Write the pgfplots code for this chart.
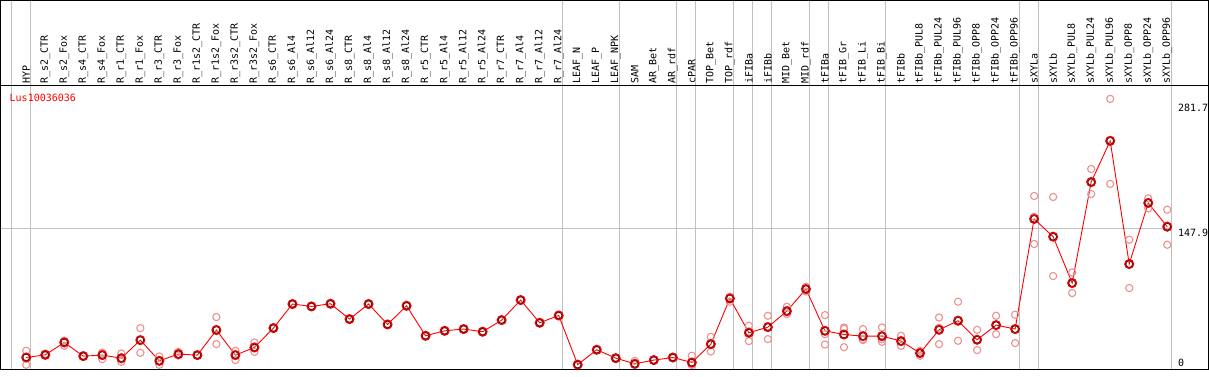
\documentclass[border=0pt]{standalone}
\usepackage{pgfplots}
\pgfplotsset{compat=1.18}
\usepackage{pgfplotstable}
\usepackage{fontspec}
\setmonofont{DejaVu Sans Mono}
\newcommand\lbl{\ttfamily\fontsize{10bp}{12bp}\selectfont}
\definecolor{rep}{RGB}{236,145,145}
\definecolor{meanc}{RGB}{235,0,0}
\definecolor{gridc}{RGB}{192,192,192}

\pgfplotstableread{
k mean r1 r2 r3
0 7.9 15.2 8.5 0
1 10.8 12 10 10.4
2 24.2 26 20.6 26
3 9.4 10 9 9.2
4 10.5 13.3 6.2 12
5 7.2 12.3 3.3 6
6 26.7 39.7 13 27.4
7 4.3 9 0 3.9
8 11.6 14 10 10.8
9 10.5 11 10 10.5
10 37.6 51.7 22.4 38.7
11 10.5 15.2 5.1 11.2
12 18.8 24.2 14 18.2
13 39.8 40.4 39.2 39.8
14 65.8 66.4 65.2 65.8
15 63.2 63.8 62.6 63.2
16 66.1 66.7 65.5 66.1
17 49.5 50.1 48.9 49.5
18 65.8 66.4 65.2 65.8
19 43.7 44.3 43.1 43.7
20 63.9 64.5 63.3 63.9
21 31.4 32.0 30.8 31.4
22 36.8 37.4 36.2 36.8
23 38.7 39.3 38.1 38.7
24 35.8 36.4 35.2 35.8
25 48.4 49.0 47.8 48.4
26 70.1 70.7 69.5 70.1
27 45.5 46.1 44.9 45.5
28 53.4 54.0 52.8 53.4
29 0.2 0.4 0 0.2
30 16.3 16.9 15.7 16.3
31 7.2 7.8 6.6 7.2
32 1.1 4.3 0 0
33 5.1 5.7 4.5 5.1
34 7.9 8.5 7.3 7.9
35 2.5 9.8 0 0
36 22.4 30.3 14.4 22.5
37 71.8 73.7 68.3 73.4
38 34.7 42.3 25.7 36.1
39 40.8 53.1 27.8 41.5
40 58.2 62.8 54.9 56.9
41 82.0 84.5 79.4 82.1
42 36.8 53.8 33.2 22.0
43 32.8 40.4 19.1 38.9
44 31.0 38.7 26.8 27.5
45 31.0 40.4 24.9 27.7
46 25.7 31.4 20.6 25.1
47 12.7 15.2 9.8 13.1
48 37.9 51.2 22.4 40.1
49 47.7 68.3 26.0 48.8
50 27.1 37.9 15.9 27.5
51 43.0 53.1 33.2 42.7
52 38.7 54.2 23.5 38.4
53 157.9 182.8 130.8 160.3
54 138.7 181.7 96.1 138.3
55 88.5 100.0 77.7 87.8
56 197.9 212.0 184.9 196.8
57 242.4 287.9 195.8 243.5
58 109.1 135.4 83.1 108.8
59 175.2 180.2 169.3 176.1
60 149.5 167.9 130.0 150.6
}\datatable

\begin{document}
\begin{tikzpicture}
\begin{axis}[
  scale only axis,
  width=1207bp, height=369bp,
  xmin=-1.353, xmax=62.17,
  ymin=-5.42, ymax=394.4,
  clip=false,
  axis line style={black, line width=1bp},
  xtick={-0.79,0.21,28.21,31.21,34.21,35.21,37.21,38.21,39.21,41.21,42.21,45.21,52.21,53.21,60.21},
  xticklabels={},
  ytick=\empty,
  major tick length=0pt,
  xmajorgrids,
  major grid style={gridc, line width=1bp},
]
% horizontal grid line and divider
\addplot[gridc, line width=1bp] coordinates {(-1.353,147.9) (60.21,147.9)};
\addplot[black, line width=1bp] coordinates {(-1.353,302.3) (62.17,302.3)};

% replicates
\addplot[only marks, mark=o, mark size=3.6bp, mark options={draw=rep, line width=1.1bp}] table[x=k, y=r1] {\datatable};
\addplot[only marks, mark=o, mark size=3.6bp, mark options={draw=rep, line width=1.1bp}] table[x=k, y=r2] {\datatable};
\addplot[only marks, mark=o, mark size=3.6bp, mark options={draw=rep, line width=1.1bp}] table[x=k, y=r3] {\datatable};

% means
\addplot[red, line width=0.9bp, mark=o, mark size=4.3bp, mark options={draw=meanc, line width=1.4bp}] table[x=k, y=mean] {\datatable};
\addplot[only marks, mark=o, mark size=3.3bp, mark options={draw=black!80!red, line width=0.55bp}] table[x=k, y=mean] {\datatable};

% right value labels
\node[anchor=west, inner sep=0pt, font=\lbl] at (axis cs:60.56,278.4) {281.7};
\node[anchor=west, inner sep=0pt, font=\lbl] at (axis cs:60.56,143.0) {147.9};
\node[anchor=west, inner sep=0pt, font=\lbl] at (axis cs:60.56,2.2) {0};

% gene name
\node[anchor=west, inner sep=0pt, font=\lbl, text=red] at (axis cs:-0.88,289.3) {Lus10036036};

% category labels
\node[rotate=90, anchor=west, inner sep=0pt, font=\lbl] at (axis cs:0,304.4) {HYP};
\node[rotate=90, anchor=west, inner sep=0pt, font=\lbl] at (axis cs:1,304.4) {R\_s2\_CTR};
\node[rotate=90, anchor=west, inner sep=0pt, font=\lbl] at (axis cs:2,304.4) {R\_s2\_Fox};
\node[rotate=90, anchor=west, inner sep=0pt, font=\lbl] at (axis cs:3,304.4) {R\_s4\_CTR};
\node[rotate=90, anchor=west, inner sep=0pt, font=\lbl] at (axis cs:4,304.4) {R\_s4\_Fox};
\node[rotate=90, anchor=west, inner sep=0pt, font=\lbl] at (axis cs:5,304.4) {R\_r1\_CTR};
\node[rotate=90, anchor=west, inner sep=0pt, font=\lbl] at (axis cs:6,304.4) {R\_r1\_Fox};
\node[rotate=90, anchor=west, inner sep=0pt, font=\lbl] at (axis cs:7,304.4) {R\_r3\_CTR};
\node[rotate=90, anchor=west, inner sep=0pt, font=\lbl] at (axis cs:8,304.4) {R\_r3\_Fox};
\node[rotate=90, anchor=west, inner sep=0pt, font=\lbl] at (axis cs:9,304.4) {R\_r1s2\_CTR};
\node[rotate=90, anchor=west, inner sep=0pt, font=\lbl] at (axis cs:10,304.4) {R\_r1s2\_Fox};
\node[rotate=90, anchor=west, inner sep=0pt, font=\lbl] at (axis cs:11,304.4) {R\_r3s2\_CTR};
\node[rotate=90, anchor=west, inner sep=0pt, font=\lbl] at (axis cs:12,304.4) {R\_r3s2\_Fox};
\node[rotate=90, anchor=west, inner sep=0pt, font=\lbl] at (axis cs:13,304.4) {R\_s6\_CTR};
\node[rotate=90, anchor=west, inner sep=0pt, font=\lbl] at (axis cs:14,304.4) {R\_s6\_Al4};
\node[rotate=90, anchor=west, inner sep=0pt, font=\lbl] at (axis cs:15,304.4) {R\_s6\_Al12};
\node[rotate=90, anchor=west, inner sep=0pt, font=\lbl] at (axis cs:16,304.4) {R\_s6\_Al24};
\node[rotate=90, anchor=west, inner sep=0pt, font=\lbl] at (axis cs:17,304.4) {R\_s8\_CTR};
\node[rotate=90, anchor=west, inner sep=0pt, font=\lbl] at (axis cs:18,304.4) {R\_s8\_Al4};
\node[rotate=90, anchor=west, inner sep=0pt, font=\lbl] at (axis cs:19,304.4) {R\_s8\_Al12};
\node[rotate=90, anchor=west, inner sep=0pt, font=\lbl] at (axis cs:20,304.4) {R\_s8\_Al24};
\node[rotate=90, anchor=west, inner sep=0pt, font=\lbl] at (axis cs:21,304.4) {R\_r5\_CTR};
\node[rotate=90, anchor=west, inner sep=0pt, font=\lbl] at (axis cs:22,304.4) {R\_r5\_Al4};
\node[rotate=90, anchor=west, inner sep=0pt, font=\lbl] at (axis cs:23,304.4) {R\_r5\_Al12};
\node[rotate=90, anchor=west, inner sep=0pt, font=\lbl] at (axis cs:24,304.4) {R\_r5\_Al24};
\node[rotate=90, anchor=west, inner sep=0pt, font=\lbl] at (axis cs:25,304.4) {R\_r7\_CTR};
\node[rotate=90, anchor=west, inner sep=0pt, font=\lbl] at (axis cs:26,304.4) {R\_r7\_Al4};
\node[rotate=90, anchor=west, inner sep=0pt, font=\lbl] at (axis cs:27,304.4) {R\_r7\_Al12};
\node[rotate=90, anchor=west, inner sep=0pt, font=\lbl] at (axis cs:28,304.4) {R\_r7\_Al24};
\node[rotate=90, anchor=west, inner sep=0pt, font=\lbl] at (axis cs:29,304.4) {LEAF\_N};
\node[rotate=90, anchor=west, inner sep=0pt, font=\lbl] at (axis cs:30,304.4) {LEAF\_P};
\node[rotate=90, anchor=west, inner sep=0pt, font=\lbl] at (axis cs:31,304.4) {LEAF\_NPK};
\node[rotate=90, anchor=west, inner sep=0pt, font=\lbl] at (axis cs:32,304.4) {SAM};
\node[rotate=90, anchor=west, inner sep=0pt, font=\lbl] at (axis cs:33,304.4) {AR\_Bet};
\node[rotate=90, anchor=west, inner sep=0pt, font=\lbl] at (axis cs:34,304.4) {AR\_rdf};
\node[rotate=90, anchor=west, inner sep=0pt, font=\lbl] at (axis cs:35,304.4) {cPAR};
\node[rotate=90, anchor=west, inner sep=0pt, font=\lbl] at (axis cs:36,304.4) {TOP\_Bet};
\node[rotate=90, anchor=west, inner sep=0pt, font=\lbl] at (axis cs:37,304.4) {TOP\_rdf};
\node[rotate=90, anchor=west, inner sep=0pt, font=\lbl] at (axis cs:38,304.4) {iFIBa};
\node[rotate=90, anchor=west, inner sep=0pt, font=\lbl] at (axis cs:39,304.4) {iFIBb};
\node[rotate=90, anchor=west, inner sep=0pt, font=\lbl] at (axis cs:40,304.4) {MID\_Bet};
\node[rotate=90, anchor=west, inner sep=0pt, font=\lbl] at (axis cs:41,304.4) {MID\_rdf};
\node[rotate=90, anchor=west, inner sep=0pt, font=\lbl] at (axis cs:42,304.4) {tFIBa};
\node[rotate=90, anchor=west, inner sep=0pt, font=\lbl] at (axis cs:43,304.4) {tFIB\_Gr};
\node[rotate=90, anchor=west, inner sep=0pt, font=\lbl] at (axis cs:44,304.4) {tFIB\_Li};
\node[rotate=90, anchor=west, inner sep=0pt, font=\lbl] at (axis cs:45,304.4) {tFIB\_Bi};
\node[rotate=90, anchor=west, inner sep=0pt, font=\lbl] at (axis cs:46,304.4) {tFIBb};
\node[rotate=90, anchor=west, inner sep=0pt, font=\lbl] at (axis cs:47,304.4) {tFIBb\_PUL8};
\node[rotate=90, anchor=west, inner sep=0pt, font=\lbl] at (axis cs:48,304.4) {tFIBb\_PUL24};
\node[rotate=90, anchor=west, inner sep=0pt, font=\lbl] at (axis cs:49,304.4) {tFIBb\_PUL96};
\node[rotate=90, anchor=west, inner sep=0pt, font=\lbl] at (axis cs:50,304.4) {tFIBb\_OPP8};
\node[rotate=90, anchor=west, inner sep=0pt, font=\lbl] at (axis cs:51,304.4) {tFIBb\_OPP24};
\node[rotate=90, anchor=west, inner sep=0pt, font=\lbl] at (axis cs:52,304.4) {tFIBb\_OPP96};
\node[rotate=90, anchor=west, inner sep=0pt, font=\lbl] at (axis cs:53,304.4) {sXYLa};
\node[rotate=90, anchor=west, inner sep=0pt, font=\lbl] at (axis cs:54,304.4) {sXYLb};
\node[rotate=90, anchor=west, inner sep=0pt, font=\lbl] at (axis cs:55,304.4) {sXYLb\_PUL8};
\node[rotate=90, anchor=west, inner sep=0pt, font=\lbl] at (axis cs:56,304.4) {sXYLb\_PUL24};
\node[rotate=90, anchor=west, inner sep=0pt, font=\lbl] at (axis cs:57,304.4) {sXYLb\_PUL96};
\node[rotate=90, anchor=west, inner sep=0pt, font=\lbl] at (axis cs:58,304.4) {sXYLb\_OPP8};
\node[rotate=90, anchor=west, inner sep=0pt, font=\lbl] at (axis cs:59,304.4) {sXYLb\_OPP24};
\node[rotate=90, anchor=west, inner sep=0pt, font=\lbl] at (axis cs:60,304.4) {sXYLb\_OPP96};
\end{axis}
\end{tikzpicture}
\end{document}
